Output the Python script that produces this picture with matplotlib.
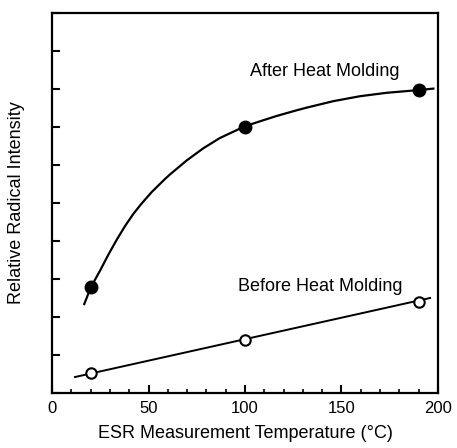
import matplotlib
matplotlib.use('Agg')
import matplotlib.pyplot as plt
from matplotlib.ticker import MultipleLocator

plt.rcParams['font.family'] = ['Liberation Sans', 'DejaVu Sans']

# measured points
temp = [20, 100, 190]
after = [2.78, 7.01, 7.97]
before = [0.53, 1.39, 2.39]

# hand-drawn guide curves
after_curve_x = [16.7, 20.2, 24.9, 29.2, 33.5, 37.8, 42.1, 46.5, 51.7, 58.5,
                 61.1, 69.8, 78.4, 87.0, 100, 107.8, 116.4, 126.8, 132.0,
                 145.8, 159.6, 173.4, 189.6, 197.6]
after_curve_y = [2.34, 2.79, 3.22, 3.64, 4.03, 4.39, 4.71, 4.99, 5.29, 5.63,
                 5.75, 6.12, 6.44, 6.71, 7.02, 7.15, 7.29, 7.44, 7.51,
                 7.68, 7.81, 7.90, 7.97, 8.01]
before_line_x = [11.9, 195.9]
before_line_y = [0.42, 2.50]

fig = plt.figure(figsize=(4.57, 4.48), dpi=100)
ax = fig.add_axes([0.1138, 0.1228, 0.8446, 0.8482])

ax.plot(after_curve_x, after_curve_y, '-', color='black', lw=1.6,
        solid_joinstyle='round')
ax.plot(before_line_x, before_line_y, '-', color='black', lw=1.4)
ax.plot(temp, after, 'o', ms=9, color='black', zorder=5)
ax.plot(temp, before, 'o', ms=7.5, mfc='white', mec='black', mew=1.5, zorder=5)

ax.text(141.5, 8.47, 'After Heat Molding', ha='center', va='center', fontsize=13)
ax.text(139, 2.79, 'Before Heat Molding', ha='center', va='center', fontsize=13)

ax.set_xlim(0, 200)
ax.set_ylim(0, 10)
ax.xaxis.set_major_locator(MultipleLocator(50))
ax.xaxis.set_minor_locator(MultipleLocator(10))
ax.yaxis.set_major_locator(MultipleLocator(1))
ax.set_yticklabels([])
ax.tick_params(axis='both', which='major', direction='in', length=6, width=1.5,
               labelsize=12)
ax.tick_params(axis='x', which='minor', direction='in', length=3, width=1.2)
ax.tick_params(axis='x', pad=6)
for sp in ax.spines.values():
    sp.set_linewidth(1.6)

ax.set_xlabel('ESR Measurement Temperature (°C)', fontsize=13, labelpad=6)
ax.set_ylabel('Relative Radical Intensity', fontsize=13, labelpad=16)

fig.savefig('out.png', dpi=100)
